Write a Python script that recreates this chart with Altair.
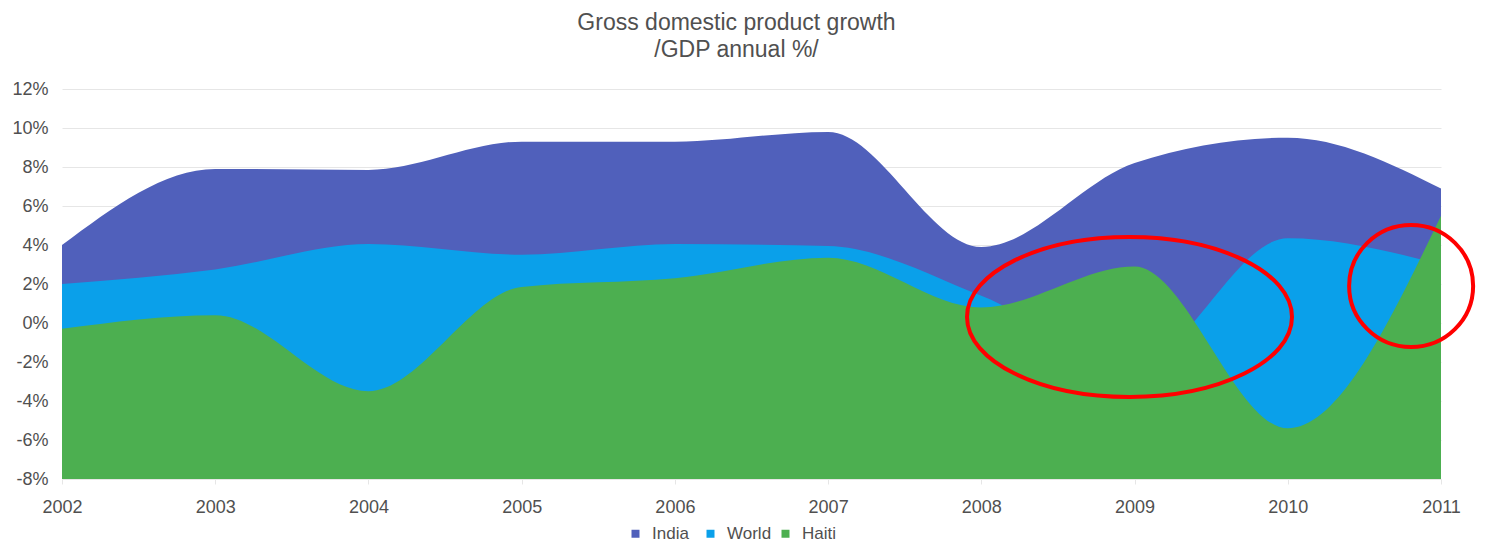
import altair as alt
import pandas as pd

years = [2002, 2003, 2004, 2005, 2006, 2007, 2008, 2009, 2010, 2011]
india = [4.0, 7.9, 7.85, 9.3, 9.3, 9.8, 3.9, 8.2, 9.5, 6.9]
world = [2.0, 2.75, 4.05, 3.5, 4.05, 3.95, 1.4, -2.1, 4.35, 3.0]
haiti = [-0.3, 0.4, -3.5, 1.85, 2.3, 3.35, 0.8, 2.9, -5.4, 5.5]

series_names = ["India", "World", "Haiti"]
series_colors = ["#5060BB", "#0AA0EA", "#4CAF50"]

y_ticks = [-8, -6, -4, -2, 0, 2, 4, 6, 8, 10, 12]

# annotation ellipses (centre in data units, radii in px)
ell_x = [2008.967, 2010.805]
ell_y = [0.31, 1.9]
ell_rx = [162.5, 62.0]
ell_ry = [80.0, 61.0]

FONT = "Liberation Sans"
GRAY = "#505050"


def ellipse_path(ratio):
    k = 0.5523
    b = ratio
    return (f"M -1 0 C -1 {-k*b:.4f} {-k:.4f} {-b:.4f} 0 {-b:.4f} "
            f"C {k:.4f} {-b:.4f} 1 {-k*b:.4f} 1 0 "
            f"C 1 {k*b:.4f} {k:.4f} {b:.4f} 0 {b:.4f} "
            f"C {-k:.4f} {b:.4f} -1 {k*b:.4f} -1 0 Z")


rows = []
for name, vals in zip(series_names, [india, world, haiti]):
    for yr, v in zip(years, vals):
        rows.append({"year": yr, "value": v, "series": name})
df = pd.DataFrame(rows)

color_scale = alt.Scale(domain=series_names, range=series_colors)

x_axis = alt.Axis(
    values=years, format="d", title=None, grid=False,
    domain=True, domainColor="#e6e6e6", ticks=True, tickColor="#e6e6e6",
    tickSize=5, labelFontSize=18, labelColor=GRAY, labelFont=FONT,
    labelPadding=14, labelFlush=False, labelOverlap=False,
)
y_axis = alt.Axis(
    values=y_ticks, labelExpr="datum.value + '%'", title=None,
    grid=True, gridColor="#e6e6e6", domain=False, ticks=False,
    labelFontSize=18, labelColor=GRAY, labelFont=FONT, labelPadding=14,
    labelOverlap=False, tickCount=11,
)
x_scale = alt.Scale(domain=[2002, 2011], nice=False, zero=False)
y_scale = alt.Scale(domain=[-8, 12], nice=False, zero=False)


def x_enc():
    return alt.X("year:Q", scale=x_scale, axis=x_axis)


def y_enc():
    return alt.Y("value:Q", scale=y_scale, axis=y_axis)


layers = []
for name in series_names:
    layers.append(
        alt.Chart(df)
        .transform_filter(alt.datum.series == name)
        .mark_area(interpolate="monotone", opacity=1)
        .encode(
            x=x_enc(),
            y=y_enc(),
            y2=alt.datum(-8),
            color=alt.Color(
                "series:N", scale=color_scale,
                legend=alt.Legend(
                    title=None, orient="none", direction="horizontal",
                    legendX=565, legendY=436, symbolType="square",
                    symbolSize=64, symbolStrokeWidth=0, labelFontSize=17,
                    labelColor=GRAY, labelFont=FONT, labelOffset=8,
                    columnPadding=5, padding=0, gridAlign="all",
                ),
            ),
        )
    )

for i in range(len(ell_x)):
    edf = pd.DataFrame({"year": [ell_x[i]], "value": [ell_y[i]]})
    layers.append(
        alt.Chart(edf)
        .mark_point(
            shape=ellipse_path(ell_ry[i] / ell_rx[i]),
            size=(2 * ell_rx[i]) ** 2,
            filled=False, stroke="#FF0000", strokeWidth=4, opacity=1,
        )
        .encode(x=x_enc(), y=y_enc())
    )

chart = (
    alt.layer(*layers)
    .properties(
        width=1379, height=390,
        title=alt.TitleParams(
            text=["Gross domestic product growth", "/GDP annual %/"],
            fontSize=23, font=FONT, color=GRAY, fontWeight="normal",
            lineHeight=27, anchor="middle", dx=-15, offset=18,
        ),
        autosize=alt.AutoSizeParams(type="none"),
        padding={"left": 54, "top": 81, "right": 36, "bottom": 63},
    )
    .configure_view(stroke=None)
)

chart.save("out.html", embed_options={"renderer": "svg", "actions": False})
